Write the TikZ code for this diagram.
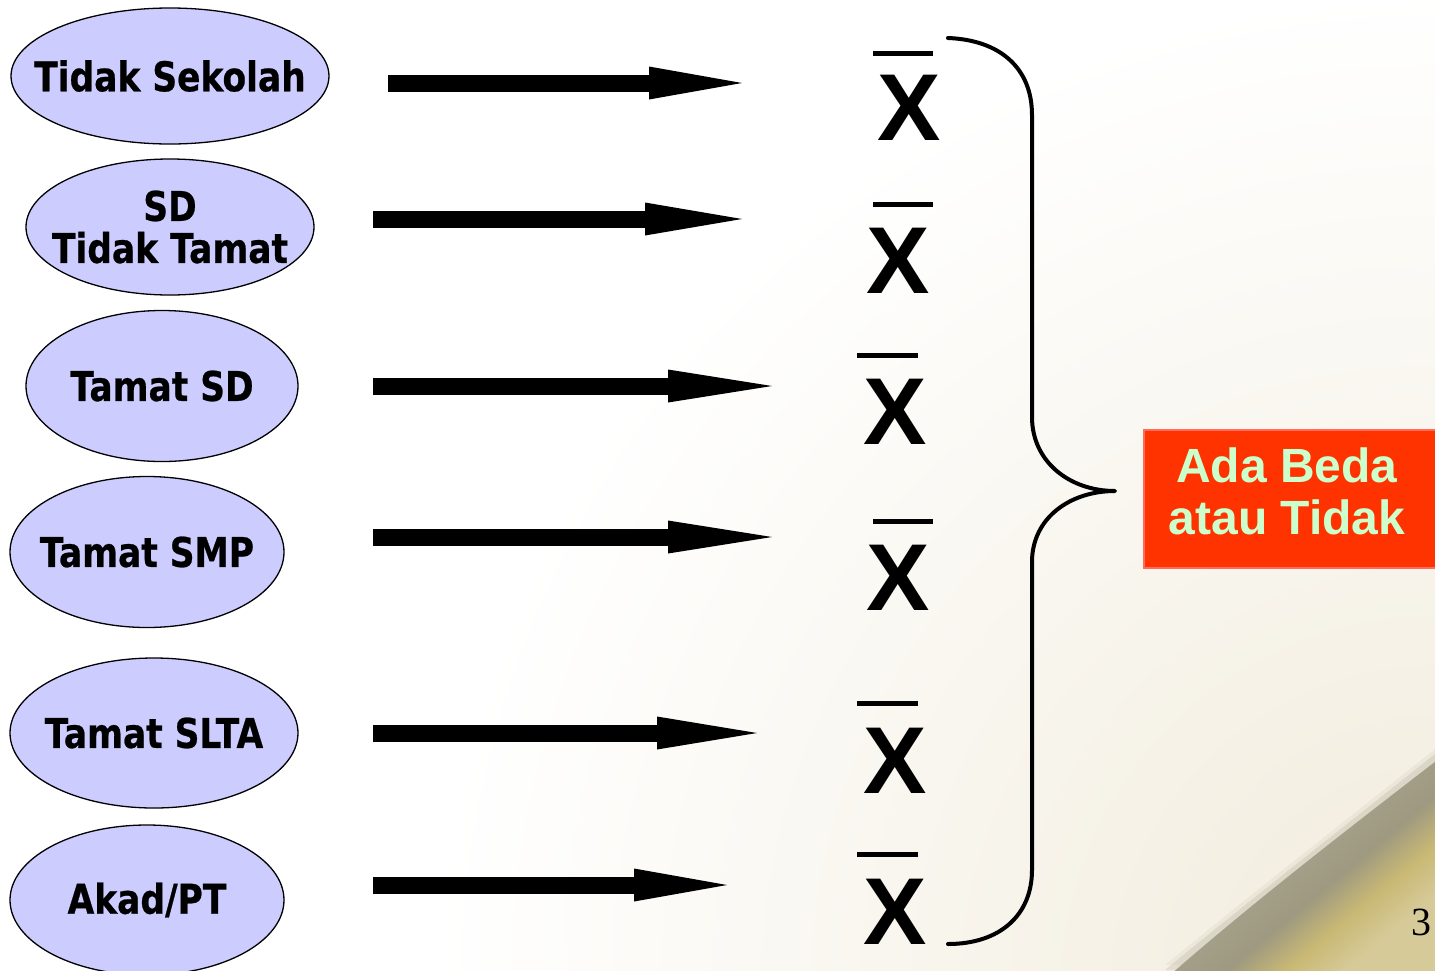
\documentclass[tikz,border=0pt]{standalone}
\usepackage{fontspec}
\setmainfont{Liberation Serif}
\newfontfamily\ellfont{DejaVu Sans}[FakeStretch=0.84,FakeBold=0.6]
\newfontfamily\arialfont{Liberation Sans}
\usetikzlibrary{shapes.geometric,arrows.meta}

\definecolor{lav}{HTML}{CCCCFF}
\definecolor{boxred}{HTML}{FF3300}
\definecolor{boxedge}{HTML}{FF6A5A}
\definecolor{mint}{HTML}{CCFFCC}
\definecolor{cream}{HTML}{F1EBDB}
\definecolor{swlight}{HTML}{ADA893}
\definecolor{swgray}{HTML}{A6A18B}
\definecolor{swdark}{HTML}{9E9980}
\definecolor{swyellow}{HTML}{C9B975}
\definecolor{swpale}{HTML}{D6CA98}

% colour ramp across the corner swoosh, from the far corner up to its rim
\pgfdeclareverticalshading{swoosh}{100bp}{%
  color(0bp)=(swpale); color(28bp)=(swpale); color(36bp)=(swyellow);
  color(44bp)=(swdark); color(54bp)=(swgray); color(60bp)=(swlight);
  color(100bp)=(swlight)}

\begin{document}
\begin{tikzpicture}[x=1pt,y=-1pt,
  level/.style={ellipse,draw=black,line width=1.3pt,fill=lav,
    inner xsep=-60pt,inner ysep=0pt,align=center,
    font=\ellfont\bfseries\fontsize{41}{42}\selectfont},
  mean/.style={inner sep=0pt,font=\arialfont\bfseries\fontsize{95}{95}\selectfont},
  meanbar/.style={line width=5pt},
  fat/.style={line width=17pt,-{Triangle[length=#1,width=33pt,line width=0pt]}},
  brace/.style={line width=4pt,line cap=round,line join=round},
  verdict/.style={rectangle,fill=boxred,draw=boxedge,line width=1.5pt,
    minimum width=293pt,minimum height=138pt,inner sep=0pt},
  verdicttext/.style={inner sep=0pt,align=center,text=mint,
    font=\arialfont\bfseries\fontsize{48}{52}\selectfont}
]
\useasboundingbox (0,0) rectangle (1435,970);

% slide background: white with a warm corner and a soft swoosh
\fill[white] (0,0) rectangle (1435,970);
\begin{scope}
  \clip (0,0) rectangle (1435,970);
  \shade[inner color=cream,outer color=white] (1435,990) circle (1000);
  % blurred upper rim of the swoosh
  \fill[swlight,opacity=0.12,yshift=10pt] (1165,975) .. controls (1250,905) and (1340,835) .. (1440,755) -- (1440,975) -- cycle;
  \fill[swlight,opacity=0.25,yshift=5pt] (1165,975) .. controls (1250,905) and (1340,835) .. (1440,755) -- (1440,975) -- cycle;
  \shade[shading=swoosh,shading angle=40]
    (1170,975) .. controls (1250,905) and (1340,835) .. (1440,758) -- (1440,975) -- cycle;
\end{scope}

% education levels
\node[level,minimum width=318pt,minimum height=136pt] (e1) at (170,76) {Tidak Sekolah};
\node[level,minimum width=288pt,minimum height=136pt] (e2) at (170,227) {SD\\Tidak Tamat};
\node[level,minimum width=272pt,minimum height=151pt] (e3) at (162,386) {Tamat SD};
\node[level,minimum width=274pt,minimum height=151pt] (e4) at (147,552) {Tamat SMP};
\node[level,minimum width=288pt,minimum height=150pt] (e5) at (154,733) {Tamat SLTA};
\node[level,minimum width=274pt,minimum height=150pt] (e6) at (147,900) {Akad/PT};

% group means
\node[mean] (m1) at (909.5,107.5) {X};
\node[mean] (m2) at (898,261) {X};
\node[mean] (m3) at (895,412) {X};
\node[mean] (m4) at (898,578) {X};
\node[mean] (m5) at (895,760.5) {X};
\node[mean] (m6) at (895,911.5) {X};
\draw[meanbar] (873,53.5) -- (933,53.5);
\draw[meanbar] (873,204) -- (933,204);
\draw[meanbar] (857,355) -- (918,355);
\draw[meanbar] (873,521) -- (933,521);
\draw[meanbar] (857,703) -- (918,703);
\draw[meanbar] (857,854) -- (918,854);

% arrows from each level to its mean
\coordinate (s1) at (388,83);  \coordinate (t1) at (742,83);
\coordinate (s2) at (373,219); \coordinate (t2) at (742,219);
\coordinate (s3) at (373,386); \coordinate (t3) at (772,386);
\coordinate (s4) at (373,537); \coordinate (t4) at (772,537);
\coordinate (s5) at (373,733); \coordinate (t5) at (757,733);
\coordinate (s6) at (373,885); \coordinate (t6) at (727,885);
\draw[fat=93pt]  (s1) -- (t1);
\draw[fat=97pt]  (s2) -- (t2);
\draw[fat=104pt] (s3) -- (t3);
\draw[fat=104pt] (s4) -- (t4);
\draw[fat=100pt] (s5) -- (t5);
\draw[fat=93pt]  (s6) -- (t6);

% brace gathering all means
\draw[brace] (948,38) .. controls (1000,40) and (1032,68) .. (1032,115)
  -- (1032,417) .. controls (1032,462) and (1070,491) .. (1115,491)
  .. controls (1070,491) and (1032,518) .. (1032,562)
  -- (1032,870) .. controls (1032,915) and (1000,944) .. (948,944);

% conclusion box
\node[verdict] (v) at (1290.5,499) {};
\node[verdicttext] (vt) at (1287,491.5) {Ada Beda\\atau Tidak};

% page number
\node[inner sep=0pt,font=\fontsize{40}{40}\selectfont] (pg) at (1421,922) {3};
\end{tikzpicture}
\end{document}
